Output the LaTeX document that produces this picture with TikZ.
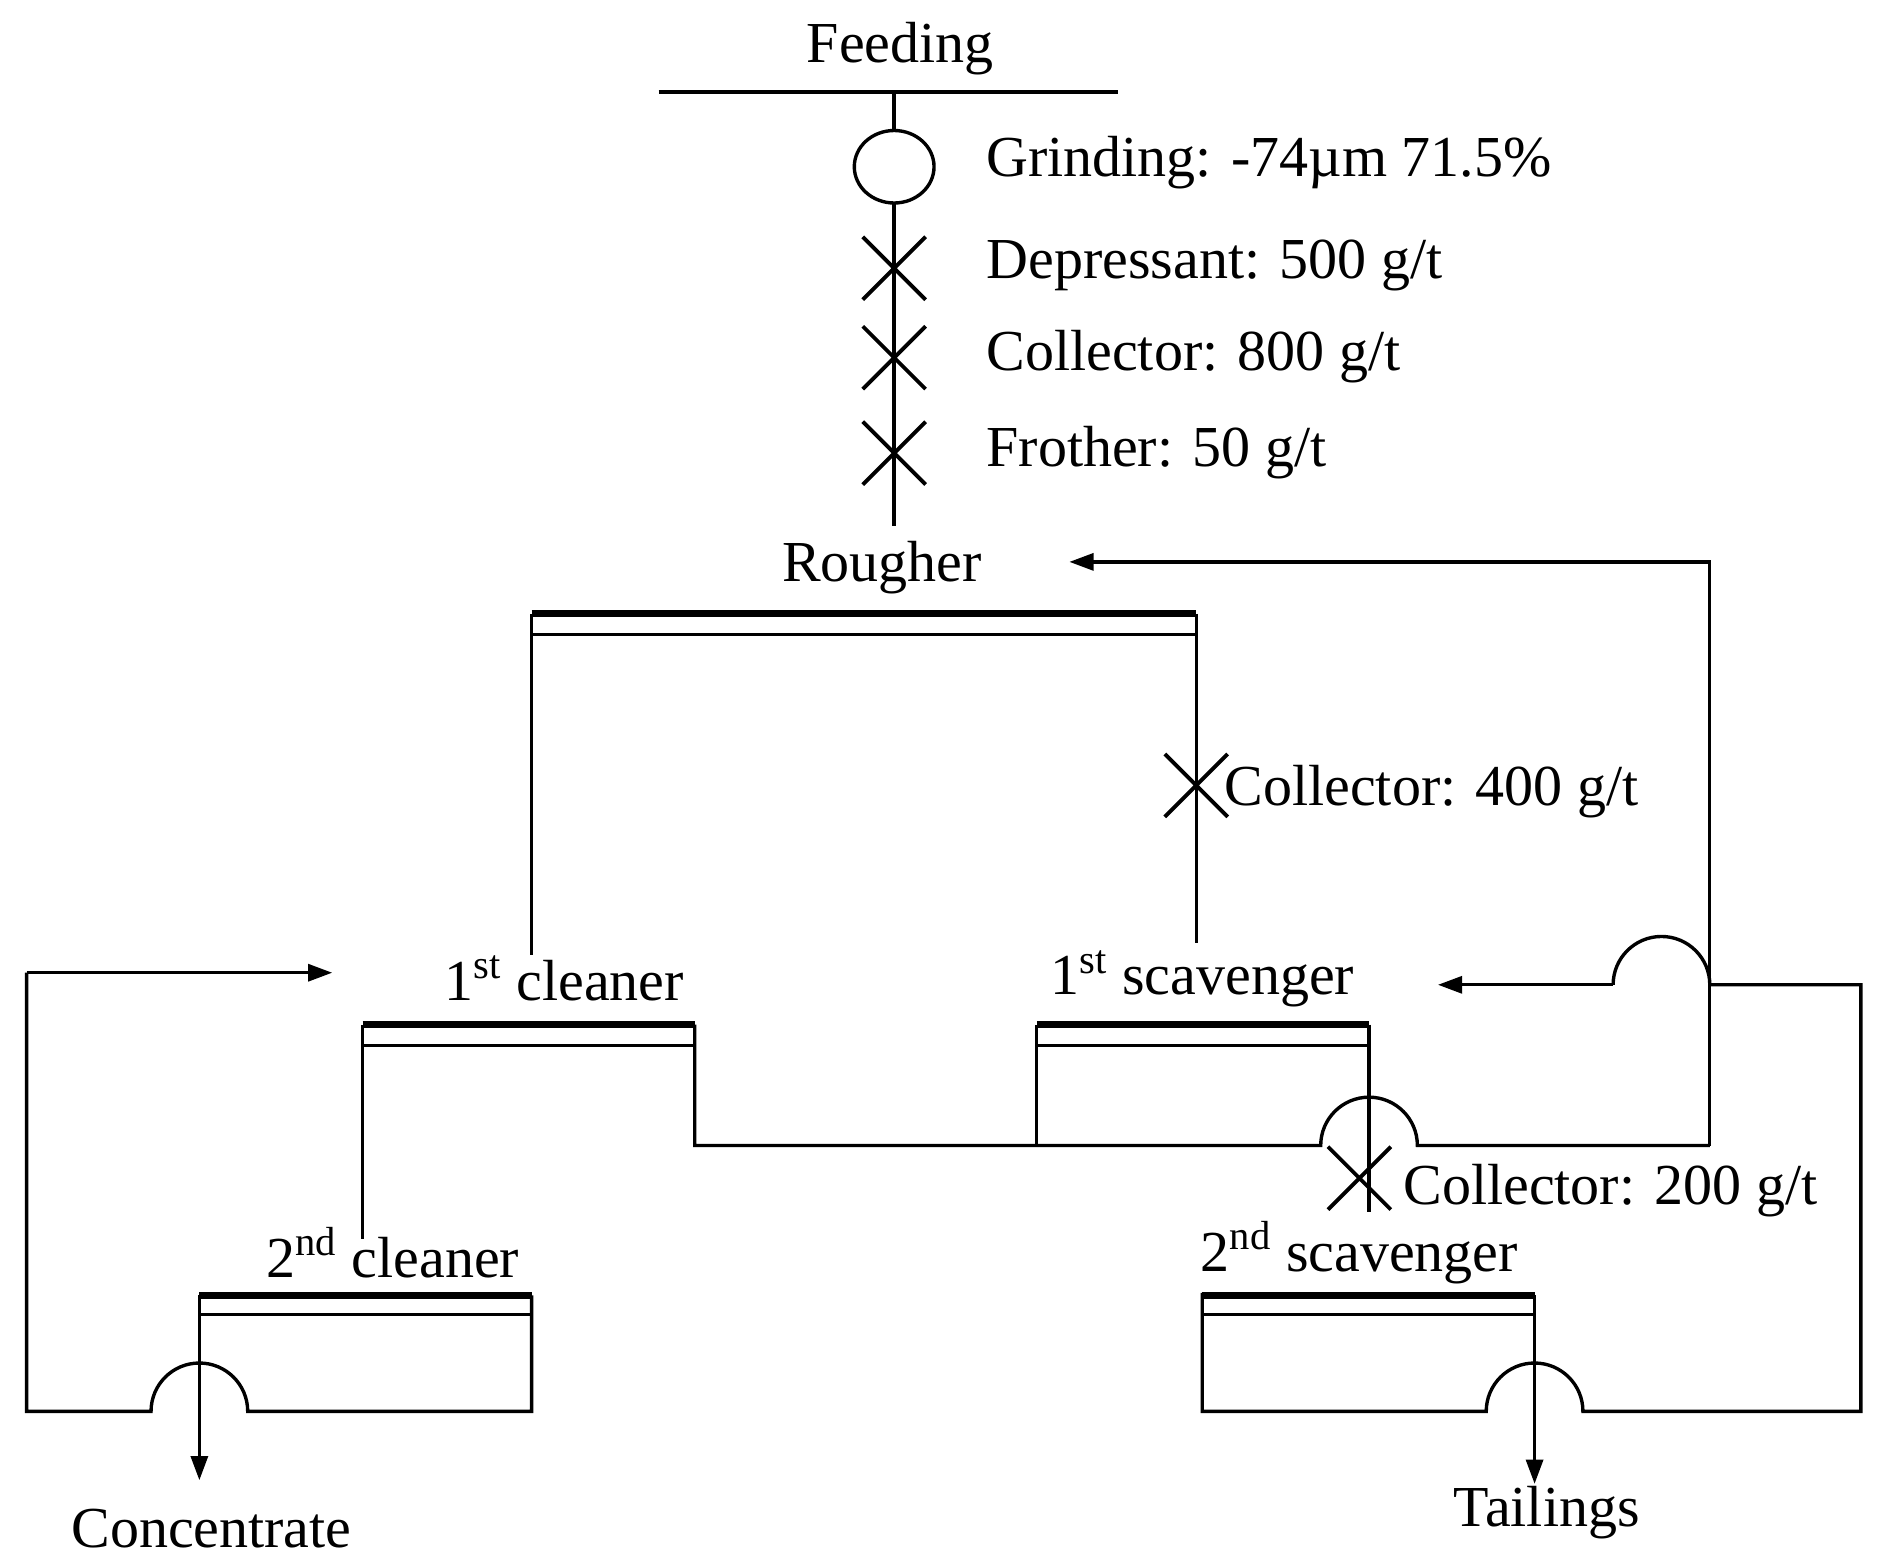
\documentclass[tikz,border=0pt]{standalone}
\usepackage{fontspec}
\setmainfont{Liberation Serif}
\usetikzlibrary{arrows.meta}
\begin{document}
\begin{tikzpicture}[x=0.5pt,y=-0.5pt,line width=1.4pt,
  lbl/.style={font=\fontsize{24}{28}\selectfont,inner sep=0pt},
  tk/.style={line width=3pt},
  arr/.style={-{Triangle[length=10pt,width=7pt]}},
  xm/.style={line width=1.6pt}]
\useasboundingbox (0,0) rectangle (1560,1291);
\newcommand{\xmark}[2]{\draw[xm] (#1-26,#2-26) -- (#1+26,#2+26) (#1-26,#2+26) -- (#1+26,#2-26);}
% feeding
\node[lbl] (feed) at (745,40) {Feeding};
\draw (545,76) -- (925,76);
\draw (740,76) -- (740,108) (740,168) -- (740,435);
\draw (740,138) ellipse (33 and 30);
\xmark{740}{222}\xmark{740}{296}\xmark{740}{375}
\node[lbl,anchor=west] (g) at (815,135) {Grinding: -74µm 71.5\%};
\node[lbl,anchor=west] (d) at (815,220) {Depressant: 500 g/t};
\node[lbl,anchor=west] (c) at (815,295) {Collector: 800 g/t};
\node[lbl,anchor=west] (f) at (815,375) {Frother: 50 g/t};
% rougher
\node[lbl] (r) at (730,470) {Rougher};
\draw[tk] (440,508) -- (990,508); \draw (440,525) -- (990,525);
\draw (440,508) -- (440,790); \draw (990,508) -- (990,780);
\xmark{990}{650}
\node[lbl,anchor=west] (c4) at (1012,655) {Collector: 400 g/t};
% 1st cleaner
\node[lbl] (c1) at (467,810) {1\textsuperscript{st} cleaner};
\draw[tk] (300,848) -- (575,848); \draw (300,865) -- (575,865);
\draw (300,848) -- (300,1025);
\draw (575,848) -- (575,948) -- (1093,948) arc (180:360:40) -- (1415,948);
% 1st scavenger
\node[lbl] (s1) at (995,810) {1\textsuperscript{st} scavenger};
\draw[tk] (858,848) -- (1133,848); \draw (858,865) -- (1133,865);
\draw (858,848) -- (858,948);
\draw (1133,848) -- (1133,1003);
\xmark{1125}{975}
\node[lbl,anchor=west] (c2) at (1160,985) {Collector: 200 g/t};
\draw[arr] (1415,948) -- (1415,465) -- (885,465);
\draw[arr] (1335,815) -- (1190,815);
\draw (1335,815) arc (180:360:40) -- (1540,815) -- (1540,1168) -- (1310,1168) arc (360:180:40) -- (995,1168) -- (995,1070);
% 2nd scavenger
\node[lbl] (s2) at (1125,1037) {2\textsuperscript{nd} scavenger};
\draw[tk] (995,1072) -- (1270,1072); \draw (995,1088) -- (1270,1088);
\draw[arr] (1270,1072) -- (1270,1228);
\node[lbl] (t) at (1280,1252) {Tailings};
% 2nd cleaner
\node[lbl] (c2n) at (325,1037) {2\textsuperscript{nd} cleaner};
\draw[tk] (165,1072) -- (440,1072); \draw (165,1088) -- (440,1088);
\draw (440,1072) -- (440,1168) -- (205,1168) arc (360:180:40) -- (22,1168) -- (22,805);
\draw[arr] (22,805) -- (275,805);
\draw[arr] (165,1072) -- (165,1225);
\node[lbl] (con) at (175,1265) {Concentrate};
\end{tikzpicture}
\end{document}
